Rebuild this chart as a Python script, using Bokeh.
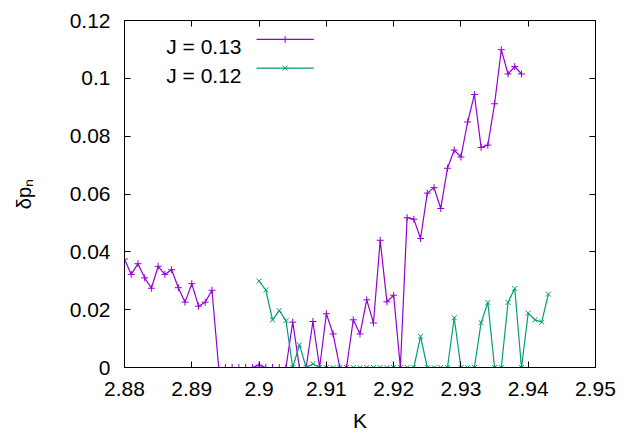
from bokeh.plotting import figure
from bokeh.models import (Range1d, FixedTicker, CustomJSTickFormatter,
                          LinearAxis, Label)
from bokeh.embed import file_html
from bokeh.resources import INLINE

# ---- data: delta p_n versus K for two couplings J ----
k_j013 = [2.880, 2.881, 2.882, 2.883, 2.884, 2.885, 2.886, 2.887, 2.888, 2.889,
          2.890, 2.891, 2.892, 2.893, 2.894, 2.895, 2.896, 2.897, 2.898, 2.899,
          2.900, 2.901, 2.902, 2.903, 2.904, 2.905, 2.906, 2.907, 2.908, 2.909,
          2.910, 2.911, 2.912, 2.913, 2.914, 2.915, 2.916, 2.917, 2.918, 2.919,
          2.920, 2.921, 2.922, 2.923, 2.924, 2.925, 2.926, 2.927, 2.928, 2.929,
          2.930, 2.931, 2.932, 2.933, 2.934, 2.935, 2.936, 2.937, 2.938, 2.939]
dp_j013 = [0.0375, 0.0322, 0.0359, 0.0310, 0.0274, 0.0350, 0.0322, 0.0338, 0.0276, 0.0226,
           0.0290, 0.0212, 0.0226, 0.0267, 0.0, 0.0, 0.0, 0.0, 0.0, 0.0,
           0.0008, 0.0, 0.0, 0.0, 0.0, 0.0157, 0.0, 0.0, 0.0159, 0.0,
           0.0186, 0.0116, 0.0, 0.0, 0.0165, 0.0116, 0.0234, 0.0154, 0.0440, 0.0227,
           0.0250, 0.0, 0.0518, 0.0513, 0.0446, 0.0603, 0.0622, 0.0550, 0.0689, 0.0752,
           0.0728, 0.0849, 0.0944, 0.0761, 0.0769, 0.0912, 0.1099, 0.1015, 0.1041, 0.1015]

k_j012 = [2.900, 2.901, 2.902, 2.903, 2.904, 2.905, 2.906, 2.907, 2.908, 2.909,
          2.910, 2.911, 2.912, 2.913, 2.914, 2.915, 2.916, 2.917, 2.918, 2.919,
          2.920, 2.921, 2.922, 2.923, 2.924, 2.925, 2.926, 2.927, 2.928, 2.929,
          2.930, 2.931, 2.932, 2.933, 2.934, 2.935, 2.936, 2.937, 2.938, 2.939,
          2.940, 2.941, 2.942, 2.943]
dp_j012 = [0.0299, 0.0268, 0.0165, 0.0197, 0.0162, 0.0, 0.0078, 0.0, 0.0013, 0.0,
           0.0, 0.0, 0.0, 0.0, 0.0, 0.0, 0.0, 0.0, 0.0, 0.0,
           0.0, 0.0, 0.0, 0.0, 0.0108, 0.0, 0.0, 0.0, 0.0, 0.0172,
           0.0, 0.0, 0.0, 0.0155, 0.0225, 0.0, 0.0, 0.0225, 0.0273, 0.0,
           0.0188, 0.0165, 0.0157, 0.0254]

series_labels = ["J = 0.13", "J = 0.12"]
x_ticks = [2.88, 2.89, 2.90, 2.91, 2.92, 2.93, 2.94, 2.95]
y_ticks = [0.0, 0.02, 0.04, 0.06, 0.08, 0.10, 0.12]

# ---- style ----
FONT = "Liberation Sans"
TICK_FONT_SIZE = "21px"
PURPLE = "#9400d3"
GREEN = "#009e73"
LINE_W = 1.2
MARKER_SIZE = 7

# legend layout (data units, inside the upper-left of the frame)
LEGEND_X0, LEGEND_X1, LEGEND_XM = 2.89962, 2.90813, 2.90387
LEGEND_ROWS_Y = [0.11345, 0.10355]
LEGEND_TEXT_X = 117            # screen px from frame left (right edge of text)
LEGEND_TEXT_BASE = [320.7, 292.3]  # screen px from frame bottom

p = figure(width=631, height=434, output_backend="svg", toolbar_location=None,
           x_range=Range1d(2.88, 2.95), y_range=Range1d(0.0, 0.12),
           min_border_left=124, min_border_right=36,
           min_border_top=20, min_border_bottom=66,
           background_fill_color="white", border_fill_color="white")
p.grid.visible = False
p.outline_line_color = "black"
p.outline_line_width = 1

trim_fmt = CustomJSTickFormatter(code="""
let s = tick.toFixed(2);
s = s.replace(/0+$/, '').replace(/\\.$/, '');
return s;
""")
blank_fmt = CustomJSTickFormatter(code="return '';")


def style_axis(ax, standoff):
    ax.major_tick_in = 6
    ax.major_tick_out = 0
    ax.minor_tick_in = 0
    ax.minor_tick_out = 0
    ax.major_tick_line_color = "black"
    ax.axis_line_color = "black"
    ax.major_label_standoff = standoff
    ax.major_label_text_font = FONT
    ax.major_label_text_font_size = TICK_FONT_SIZE
    ax.major_label_text_color = "black"
    ax.axis_label_text_font = FONT
    ax.axis_label_text_font_style = "normal"
    ax.axis_label_text_color = "black"


xa = p.xaxis[0]
xa.ticker = FixedTicker(ticks=x_ticks)
xa.formatter = trim_fmt
style_axis(xa, 14)
xa.axis_label = "K"
xa.axis_label_text_font_size = TICK_FONT_SIZE
xa.axis_label_standoff = 10

ya = p.yaxis[0]
ya.ticker = FixedTicker(ticks=y_ticks)
ya.formatter = trim_fmt
style_axis(ya, 14)
ya.axis_label = "δpₙ"
ya.axis_label_text_font_size = "20px"
ya.axis_label_standoff = 32

# mirrored ticks on the top and right edges
top_ax = LinearAxis(ticker=FixedTicker(ticks=x_ticks), formatter=blank_fmt)
style_axis(top_ax, 0)
top_ax.major_label_text_font_size = "1px"
p.add_layout(top_ax, "above")

right_ax = LinearAxis(ticker=FixedTicker(ticks=y_ticks), formatter=blank_fmt)
style_axis(right_ax, 0)
right_ax.major_label_text_font_size = "1px"
p.add_layout(right_ax, "right")

# ---- series ----
p.line(k_j013, dp_j013, line_color=PURPLE, line_width=LINE_W)
p.scatter(k_j013, dp_j013, marker="cross", size=MARKER_SIZE,
          line_color=PURPLE, line_width=1)

p.line(k_j012, dp_j012, line_color=GREEN, line_width=LINE_W)
p.scatter(k_j012, dp_j012, marker="x", size=MARKER_SIZE,
          line_color=GREEN, line_width=1)

# ---- legend: label on the left, sample on the right ----
for lab, ly, col, mk, base in zip(series_labels, LEGEND_ROWS_Y,
                                   [PURPLE, GREEN], ["cross", "x"],
                                   LEGEND_TEXT_BASE):
    p.add_layout(Label(x=LEGEND_TEXT_X, y=base, x_units="screen", y_units="screen",
                       text=lab, text_align="right", text_baseline="alphabetic",
                       text_font=FONT, text_font_size=TICK_FONT_SIZE,
                       text_color="black"))
    p.line([LEGEND_X0, LEGEND_X1], [ly, ly], line_color=col, line_width=LINE_W)
    p.scatter([LEGEND_XM], [ly], marker=mk, size=MARKER_SIZE,
              line_color=col, line_width=1)

open("out.html", "w").write(file_html(p, INLINE))
